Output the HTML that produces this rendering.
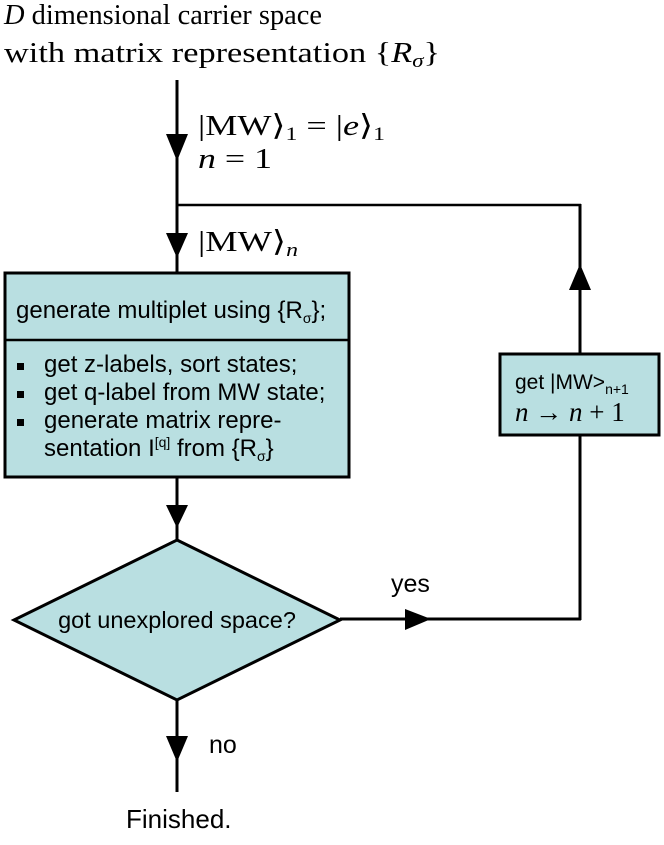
<!DOCTYPE html>
<html><head><meta charset="utf-8"><style>
body{margin:0;background:#fff;}
.a{font-family:"Liberation Sans",sans-serif;}
.s{font-family:"Liberation Serif",serif;}
</style></head><body>
<svg width="664" height="840" viewBox="0 0 664 840" xmlns="http://www.w3.org/2000/svg">
<text class="s" x="4" y="24" font-size="28.5" textLength="318" lengthAdjust="spacingAndGlyphs"><tspan font-style="italic">D</tspan> dimensional carrier space</text>
<text class="s" x="4" y="62" font-size="28.5" textLength="436" lengthAdjust="spacingAndGlyphs">with matrix representation {<tspan font-style="italic">R</tspan><tspan font-size="19" dy="5" font-style="italic">σ</tspan><tspan dy="-5">}</tspan></text>
<g stroke="#000" stroke-width="3" fill="none">
<line x1="177" y1="80" x2="177" y2="272"/>
<line x1="176" y1="205" x2="581" y2="205" stroke-width="2.5"/>
<line x1="580" y1="204" x2="580" y2="353"/>
<line x1="580" y1="435" x2="580" y2="620"/>
<line x1="340" y1="619" x2="581" y2="619"/>
<line x1="177" y1="478" x2="177" y2="540"/>
<line x1="177" y1="700" x2="177" y2="792"/>
</g>
<g fill="#000">
<polygon points="166,134 188,134 177,161"/>
<polygon points="166,233 188,233 177,258"/>
<polygon points="166,505 188,505 177,528"/>
<polygon points="166,736 188,736 177,762"/>
<polygon points="569,290 591,290 580,264"/>
<polygon points="405,609 405,630 431,619"/>
</g>
<rect x="5" y="273" width="344" height="204" fill="#b9dfe1" stroke="#000" stroke-width="3"/>
<line x1="5" y1="340" x2="349" y2="340" stroke="#000" stroke-width="2.5"/>
<text class="a" x="16" y="318" font-size="24">generate multiplet using {R<tspan font-size="14" dy="5">σ</tspan><tspan dy="-5">};</tspan></text>
<rect x="17" y="363" width="7" height="7" fill="#000"/>
<text class="a" x="44" y="372" font-size="24">get z-labels, sort states;</text>
<rect x="17" y="391" width="7" height="7" fill="#000"/>
<text class="a" x="44" y="400" font-size="24">get q-label from MW state;</text>
<rect x="17" y="419" width="7" height="7" fill="#000"/>
<text class="a" x="44" y="428" font-size="24">generate matrix repre-</text>
<text class="a" x="44" y="456" font-size="24">sentation I<tspan font-size="14" dy="-9">[q]</tspan><tspan dy="9"> from {R</tspan><tspan font-size="14" dy="5">σ</tspan><tspan dy="-5">}</tspan></text>
<rect x="500" y="354" width="159" height="81" fill="#b9dfe1" stroke="#000" stroke-width="3"/>
<text class="a" x="515" y="389" font-size="21">get |MW&gt;<tspan font-size="14" dy="5">n+1</tspan></text>
<text class="s" x="515" y="421" font-size="27"><tspan font-style="italic">n</tspan> → <tspan font-style="italic">n</tspan> + 1</text>
<polygon points="177,540 340,620 177,700 14,620" fill="#b9dfe1" stroke="#000" stroke-width="3"/>
<text class="a" x="177" y="628" font-size="23.5" text-anchor="middle">got unexplored space?</text>
<text class="a" x="391" y="592" font-size="25">yes</text>
<text class="a" x="209" y="753" font-size="25">no</text>
<text class="a" x="126" y="828" font-size="26">Finished.</text>
<text class="s" x="198" y="135" font-size="29" textLength="187" lengthAdjust="spacingAndGlyphs">|MW⟩<tspan font-size="19" dy="5">1</tspan><tspan dy="-5"> = |</tspan><tspan font-style="italic">e</tspan>⟩<tspan font-size="19" dy="5">1</tspan></text>
<text class="s" x="198" y="168" font-size="29" textLength="74" lengthAdjust="spacingAndGlyphs"><tspan font-style="italic">n</tspan> = 1</text>
<text class="s" x="198" y="251" font-size="29" textLength="100" lengthAdjust="spacingAndGlyphs">|MW⟩<tspan font-size="19" dy="5" font-style="italic">n</tspan></text>
</svg>
</body></html>
